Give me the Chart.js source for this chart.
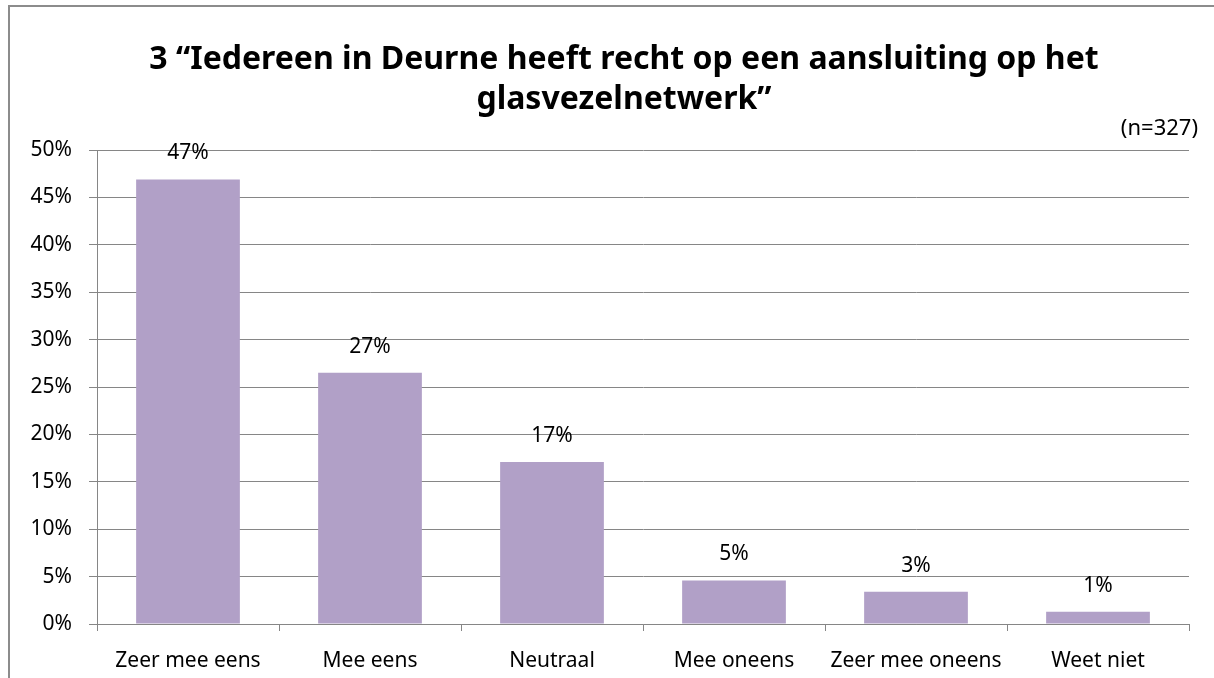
<!DOCTYPE html>
<html>
<head>
<meta charset="utf-8">
<script src="https://cdn.jsdelivr.net/npm/chart.js@4"></script>
<style>
  html, body { margin: 0; padding: 0; background: #fff; }
  #wrap { position: relative; width: 1214px; height: 678px; overflow: hidden; }
  #frame { position: absolute; left: 8px; top: 5px; width: 1220px; height: 700px; border: 2px solid #8c8c8c; box-sizing: border-box; }
  canvas { position: absolute; left: 0; top: 0; }
</style>
</head>
<body>
<div id="wrap">
  <div id="frame"></div>
  <canvas id="chart" width="1214" height="678"></canvas>
</div>
<script>
// Stelling 3: glasvezelnetwerk Deurne
const categories = ["Zeer mee eens", "Mee eens", "Neutraal", "Mee oneens", "Zeer mee oneens", "Weet niet"];
const values = [46.9, 26.5, 17.1, 4.6, 3.4, 1.3];
const valueLabels = ["47%", "27%", "17%", "5%", "3%", "1%"];
const titleLines = ["3 \u201cIedereen in Deurne heeft recht op een aansluiting op het", "glasvezelnetwerk\u201d"];
const sampleNote = "(n=327)";

const FONT = "'Noto Sans', sans-serif";
const GRID = "#868686";

const textLayer = {
  id: "textLayer",
  afterDatasetsDraw(chart) {
    const ctx = chart.ctx;
    const meta = chart.getDatasetMeta(0);
    ctx.save();
    ctx.fillStyle = "#000";
    ctx.textAlign = "center";
    ctx.textBaseline = "middle";
    // titel, gecentreerd zoals in het origineel
    ctx.font = "bold 32px " + FONT;
    titleLines.forEach((line, i) => ctx.fillText(line, 624, 60 + i * 40));
    ctx.font = "21px " + FONT;
    meta.data.forEach((bar, i) => ctx.fillText(valueLabels[i], bar.x, bar.y - 26));
    // steekproefgrootte rechtsboven
    ctx.textAlign = "right";
    ctx.font = "22px " + FONT;
    ctx.fillText(sampleNote, 1198, 129);
    ctx.restore();
  }
};

new Chart(document.getElementById("chart"), {
  type: "bar",
  data: {
    labels: categories,
    datasets: [{ data: values, backgroundColor: "#b1a0c7", barPercentage: 0.57, categoryPercentage: 1 }]
  },
  options: {
    responsive: false,
    animation: false,
    layout: { padding: { left: 0, right: 25, top: 150, bottom: 0 } },
    plugins: {
      legend: { display: false },
      tooltip: { enabled: false },
      title: { display: false }
    },
    scales: {
      x: {
        grid: { drawOnChartArea: false, drawTicks: true, tickLength: 7, color: GRID, offset: true },
        border: { color: GRID, width: 1 },
        ticks: { color: "#000", font: { family: FONT, size: 21 }, padding: 17 },
        afterFit: (s) => { s.height = 54; }
      },
      y: {
        min: 0, max: 50,
        grid: { color: GRID, tickLength: 8 },
        border: { color: GRID, width: 1 },
        ticks: { stepSize: 5, color: "#000", font: { family: FONT, size: 21 }, padding: 17, callback: (v) => v + "%" },
        afterFit: (s) => { s.width = 97; }
      }
    }
  },
  plugins: [textLayer]
});
</script>
</body>
</html>
